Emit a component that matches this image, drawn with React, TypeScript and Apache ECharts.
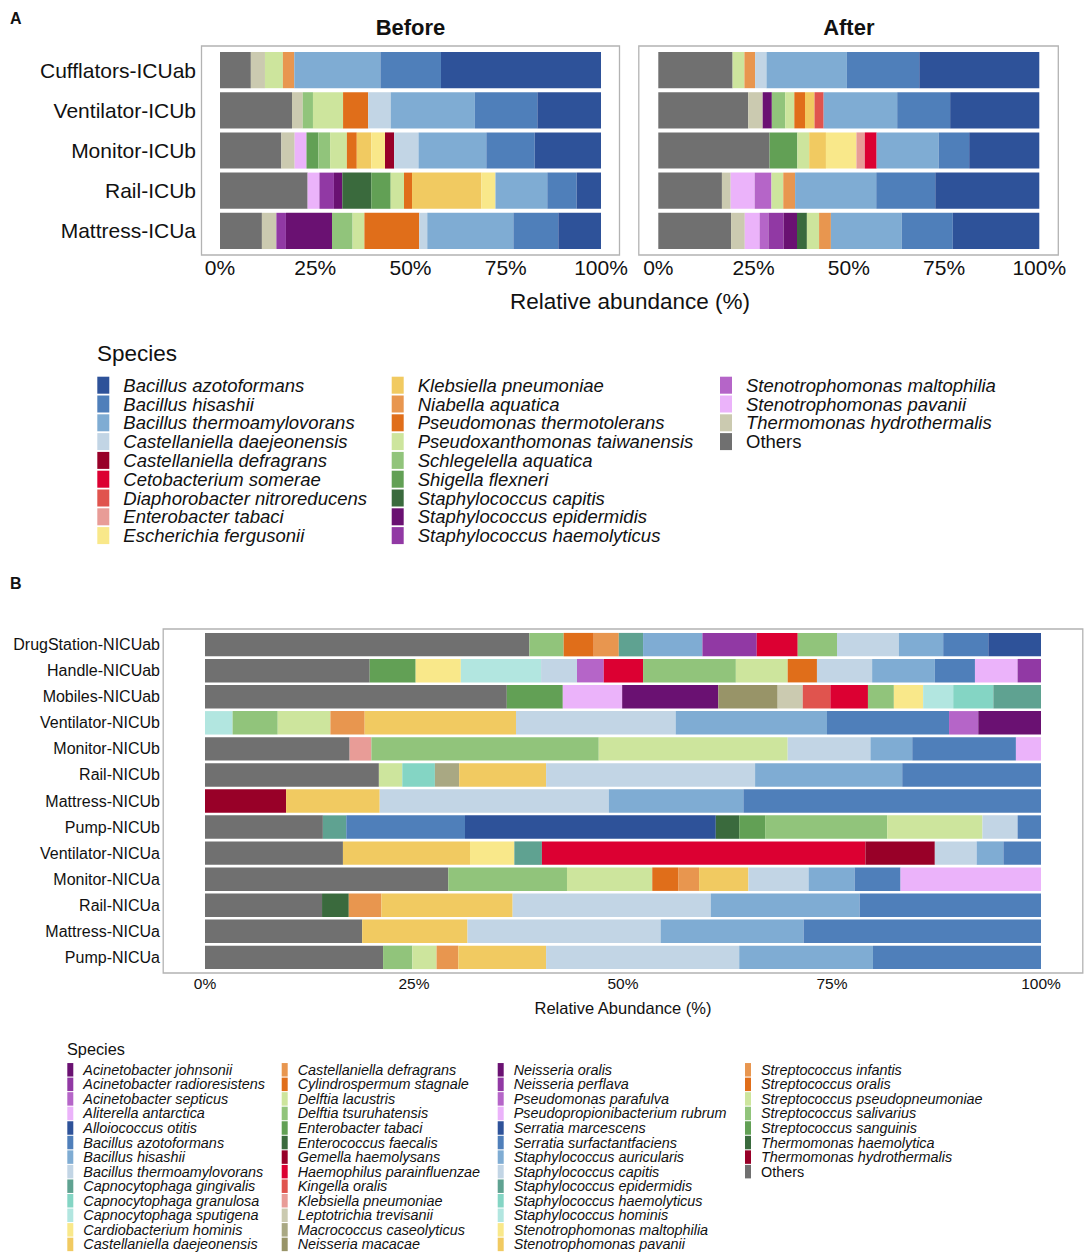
import React, { useEffect, useRef } from "react";
import * as echarts from "echarts";

const FONT = "'Liberation Sans', Arial, Helvetica, sans-serif";
const INK = "#111111";
const FRAME = "#B3B3B3";

type Seg = [string, number];

// ================= Panel A =================
const categoriesA = ["Cufflators-ICUab", "Ventilator-ICUb", "Monitor-ICUb", "Rail-ICUb", "Mattress-ICUa"];
const facetTitlesA = ["Before", "After"];

const speciesA = [
  "Bacillus azotoformans", "Bacillus hisashii", "Bacillus thermoamylovorans", "Castellaniella daejeonensis",
  "Castellaniella defragrans", "Cetobacterium somerae", "Diaphorobacter nitroreducens", "Enterobacter tabaci",
  "Escherichia fergusonii", "Klebsiella pneumoniae", "Niabella aquatica", "Pseudomonas thermotolerans",
  "Pseudoxanthomonas taiwanensis", "Schlegelella aquatica", "Shigella flexneri", "Staphylococcus capitis",
  "Staphylococcus epidermidis", "Staphylococcus haemolyticus", "Stenotrophomonas maltophilia",
  "Stenotrophomonas pavanii", "Thermomonas hydrothermalis", "Others",
];
const colorsA = [
  "#2E5299", "#4F7FBA", "#7FACD3", "#C2D5E5",
  "#980028", "#DC0032", "#E0544E", "#E89C97",
  "#F9E88A", "#F1CA61", "#E8964F", "#E06E1A",
  "#CDE59D", "#91C47B", "#62A055", "#3A6A3D",
  "#6A1172", "#9139A4", "#B565C8",
  "#EBB3FA", "#CBCAB0", "#707070",
];

const beforeCufflators: Seg[] = [
  ["Others", 8.1], ["Thermomonas hydrothermalis", 3.7], ["Pseudoxanthomonas taiwanensis", 4.7],
  ["Niabella aquatica", 3.0], ["Bacillus thermoamylovorans", 22.6], ["Bacillus hisashii", 15.9],
  ["Bacillus azotoformans", 42.0],
];
const beforeVentilator: Seg[] = [
  ["Others", 18.9], ["Thermomonas hydrothermalis", 2.8], ["Schlegelella aquatica", 2.7],
  ["Pseudoxanthomonas taiwanensis", 7.9], ["Pseudomonas thermotolerans", 6.6], ["Castellaniella daejeonensis", 5.9],
  ["Bacillus thermoamylovorans", 22.1], ["Bacillus hisashii", 16.4], ["Bacillus azotoformans", 16.7],
];
const beforeMonitor: Seg[] = [
  ["Others", 16.1], ["Thermomonas hydrothermalis", 3.5], ["Stenotrophomonas pavanii", 3.1],
  ["Shigella flexneri", 3.1], ["Schlegelella aquatica", 3.1], ["Pseudoxanthomonas taiwanensis", 4.4],
  ["Pseudomonas thermotolerans", 2.6], ["Klebsiella pneumoniae", 3.8], ["Escherichia fergusonii", 3.6],
  ["Castellaniella defragrans", 2.4], ["Castellaniella daejeonensis", 6.4], ["Bacillus thermoamylovorans", 17.8],
  ["Bacillus hisashii", 12.7], ["Bacillus azotoformans", 17.4],
];
const beforeRail: Seg[] = [
  ["Others", 23.0], ["Stenotrophomonas pavanii", 3.1], ["Staphylococcus haemolyticus", 3.8],
  ["Staphylococcus epidermidis", 2.2], ["Staphylococcus capitis", 7.6], ["Shigella flexneri", 5.1],
  ["Pseudoxanthomonas taiwanensis", 3.5], ["Pseudomonas thermotolerans", 2.1], ["Klebsiella pneumoniae", 18.2],
  ["Escherichia fergusonii", 3.7], ["Bacillus thermoamylovorans", 13.6], ["Bacillus hisashii", 7.7],
  ["Bacillus azotoformans", 6.4],
];
const beforeMattress: Seg[] = [
  ["Others", 11.0], ["Thermomonas hydrothermalis", 3.8], ["Staphylococcus haemolyticus", 2.5],
  ["Staphylococcus epidermidis", 12.1], ["Schlegelella aquatica", 5.4], ["Pseudoxanthomonas taiwanensis", 3.1],
  ["Pseudomonas thermotolerans", 14.4], ["Castellaniella daejeonensis", 2.1], ["Bacillus thermoamylovorans", 22.6],
  ["Bacillus hisashii", 11.8], ["Bacillus azotoformans", 11.2],
];

const afterCufflators: Seg[] = [
  ["Others", 19.5], ["Pseudoxanthomonas taiwanensis", 3.1], ["Niabella aquatica", 2.8],
  ["Castellaniella daejeonensis", 3.0], ["Bacillus thermoamylovorans", 21.1], ["Bacillus hisashii", 19.0],
  ["Bacillus azotoformans", 31.5],
];
const afterVentilator: Seg[] = [
  ["Others", 23.6], ["Thermomonas hydrothermalis", 3.8], ["Staphylococcus epidermidis", 2.4],
  ["Schlegelella aquatica", 3.5], ["Pseudoxanthomonas taiwanensis", 2.4], ["Pseudomonas thermotolerans", 2.8],
  ["Klebsiella pneumoniae", 2.5], ["Diaphorobacter nitroreducens", 2.4], ["Bacillus thermoamylovorans", 19.3],
  ["Bacillus hisashii", 13.9], ["Bacillus azotoformans", 23.4],
];
const afterMonitor: Seg[] = [
  ["Others", 29.2], ["Shigella flexneri", 7.3], ["Pseudoxanthomonas taiwanensis", 3.1],
  ["Klebsiella pneumoniae", 4.4], ["Escherichia fergusonii", 8.0], ["Enterobacter tabaci", 2.2],
  ["Cetobacterium somerae", 3.1], ["Bacillus thermoamylovorans", 16.3], ["Bacillus hisashii", 8.0],
  ["Bacillus azotoformans", 18.4],
];
const afterRail: Seg[] = [
  ["Others", 16.7], ["Thermomonas hydrothermalis", 2.3], ["Stenotrophomonas pavanii", 6.3],
  ["Stenotrophomonas maltophilia", 4.4], ["Pseudoxanthomonas taiwanensis", 3.1], ["Niabella aquatica", 3.1],
  ["Bacillus thermoamylovorans", 21.3], ["Bacillus hisashii", 15.5], ["Bacillus azotoformans", 27.3],
];
const afterMattress: Seg[] = [
  ["Others", 19.1], ["Thermomonas hydrothermalis", 3.6], ["Stenotrophomonas pavanii", 3.9],
  ["Stenotrophomonas maltophilia", 2.3], ["Staphylococcus haemolyticus", 4.0], ["Staphylococcus epidermidis", 3.5],
  ["Staphylococcus capitis", 2.6], ["Pseudoxanthomonas taiwanensis", 3.2], ["Niabella aquatica", 3.1],
  ["Bacillus thermoamylovorans", 18.6], ["Bacillus hisashii", 13.4], ["Bacillus azotoformans", 22.7],
];

const rowsBeforeA = [beforeCufflators, beforeVentilator, beforeMonitor, beforeRail, beforeMattress];
const rowsAfterA = [afterCufflators, afterVentilator, afterMonitor, afterRail, afterMattress];

// ================= Panel B =================
const categoriesB = [
  "DrugStation-NICUab", "Handle-NICUab", "Mobiles-NICUab", "Ventilator-NICUb", "Monitor-NICUb",
  "Rail-NICUb", "Mattress-NICUb", "Pump-NICUb", "Ventilator-NICUa", "Monitor-NICUa",
  "Rail-NICUa", "Mattress-NICUa", "Pump-NICUa",
];

const speciesB = [
  "Acinetobacter johnsonii", "Acinetobacter radioresistens", "Acinetobacter septicus", "Aliterella antarctica",
  "Alloiococcus otitis", "Bacillus azotoformans", "Bacillus hisashii", "Bacillus thermoamylovorans",
  "Capnocytophaga gingivalis", "Capnocytophaga granulosa", "Capnocytophaga sputigena", "Cardiobacterium hominis",
  "Castellaniella daejeonensis",
  "Castellaniella defragrans", "Cylindrospermum stagnale", "Delftia lacustris", "Delftia tsuruhatensis",
  "Enterobacter tabaci", "Enterococcus faecalis", "Gemella haemolysans", "Haemophilus parainfluenzae",
  "Kingella oralis", "Klebsiella pneumoniae", "Leptotrichia trevisanii", "Macrococcus caseolyticus",
  "Neisseria macacae",
  "Neisseria oralis", "Neisseria perflava", "Pseudomonas parafulva", "Pseudopropionibacterium rubrum",
  "Serratia marcescens", "Serratia surfactantfaciens", "Staphylococcus auricularis", "Staphylococcus capitis",
  "Staphylococcus epidermidis", "Staphylococcus haemolyticus", "Staphylococcus hominis",
  "Stenotrophomonas maltophilia", "Stenotrophomonas pavanii",
  "Streptococcus infantis", "Streptococcus oralis", "Streptococcus pseudopneumoniae", "Streptococcus salivarius",
  "Streptococcus sanguinis", "Thermomonas haemolytica", "Thermomonas hydrothermalis", "Others",
];
const colorsB = [
  "#6A1172", "#9139A4", "#B565C8", "#EBB3FA",
  "#2E5299", "#4F7FBA", "#7FACD3", "#C2D5E5",
  "#5FA291", "#84D5C4", "#B2E6E0", "#F9E88A",
  "#F1CA61",
  "#E8964F", "#E06E1A", "#CDE59D", "#91C47B",
  "#62A055", "#3A6A3D", "#980028", "#DC0032",
  "#E0544E", "#E89C97", "#CBCAB0", "#A9A883",
  "#989468",
  "#6A1172", "#9139A4", "#B565C8", "#EBB3FA",
  "#2E5299", "#4F7FBA", "#7FACD3", "#C2D5E5",
  "#5FA291", "#84D5C4", "#B2E6E0",
  "#F9E88A", "#F1CA61",
  "#E8964F", "#E06E1A", "#CDE59D", "#91C47B",
  "#62A055", "#3A6A3D", "#980028", "#707070",
];

const drugStationNICUab: Seg[] = [
  ["Others", 38.8], ["Streptococcus salivarius", 4.1], ["Streptococcus oralis", 3.6], ["Streptococcus infantis", 3.0],
  ["Staphylococcus epidermidis", 2.9], ["Staphylococcus auricularis", 7.1], ["Neisseria perflava", 6.5],
  ["Haemophilus parainfluenzae", 4.9], ["Delftia tsuruhatensis", 4.7], ["Bacillus thermoamylovorans", 7.4],
  ["Bacillus hisashii", 5.3], ["Bacillus azotoformans", 5.4], ["Alloiococcus otitis", 6.3],
];
const handleNICUab: Seg[] = [
  ["Others", 19.7], ["Streptococcus sanguinis", 5.5], ["Stenotrophomonas maltophilia", 5.4],
  ["Staphylococcus hominis", 9.6], ["Staphylococcus capitis", 4.3], ["Pseudomonas parafulva", 3.2],
  ["Haemophilus parainfluenzae", 4.7], ["Delftia tsuruhatensis", 11.1], ["Delftia lacustris", 6.2],
  ["Cylindrospermum stagnale", 3.5], ["Bacillus thermoamylovorans", 6.6], ["Bacillus hisashii", 7.5],
  ["Bacillus azotoformans", 4.8], ["Aliterella antarctica", 5.1], ["Acinetobacter radioresistens", 2.8],
];
const mobilesNICUab: Seg[] = [
  ["Others", 36.1], ["Streptococcus sanguinis", 6.7], ["Pseudopropionibacterium rubrum", 7.1],
  ["Neisseria oralis", 11.5], ["Neisseria macacae", 7.1], ["Leptotrichia trevisanii", 3.0], ["Kingella oralis", 3.3],
  ["Haemophilus parainfluenzae", 4.5], ["Delftia tsuruhatensis", 3.1], ["Cardiobacterium hominis", 3.5],
  ["Capnocytophaga sputigena", 3.6], ["Capnocytophaga granulosa", 4.8], ["Capnocytophaga gingivalis", 5.7],
];
const ventilatorNICUb: Seg[] = [
  ["Staphylococcus hominis", 3.3], ["Delftia tsuruhatensis", 5.4], ["Delftia lacustris", 6.3],
  ["Castellaniella defragrans", 4.1], ["Castellaniella daejeonensis", 18.1], ["Bacillus thermoamylovorans", 19.1],
  ["Bacillus hisashii", 18.1], ["Bacillus azotoformans", 14.6], ["Acinetobacter septicus", 3.5],
  ["Acinetobacter johnsonii", 7.5],
];
const monitorNICUb: Seg[] = [
  ["Others", 17.3], ["Klebsiella pneumoniae", 2.6], ["Delftia tsuruhatensis", 27.2], ["Delftia lacustris", 22.6],
  ["Bacillus thermoamylovorans", 9.9], ["Bacillus hisashii", 5.0], ["Bacillus azotoformans", 12.4],
  ["Aliterella antarctica", 3.0],
];
const railNICUb: Seg[] = [
  ["Others", 20.8], ["Streptococcus pseudopneumoniae", 2.8], ["Staphylococcus haemolyticus", 3.9],
  ["Macrococcus caseolyticus", 2.9], ["Castellaniella daejeonensis", 10.4], ["Bacillus thermoamylovorans", 25.0],
  ["Bacillus hisashii", 17.6], ["Bacillus azotoformans", 16.6],
];
const mattressNICUb: Seg[] = [
  ["Gemella haemolysans", 9.7], ["Castellaniella daejeonensis", 11.2], ["Bacillus thermoamylovorans", 27.4],
  ["Bacillus hisashii", 16.1], ["Bacillus azotoformans", 35.6],
];
const pumpNICUb: Seg[] = [
  ["Others", 14.1], ["Staphylococcus epidermidis", 2.8], ["Serratia surfactantfaciens", 14.2],
  ["Serratia marcescens", 30.0], ["Enterococcus faecalis", 2.8], ["Enterobacter tabaci", 3.1],
  ["Delftia tsuruhatensis", 14.6], ["Delftia lacustris", 11.4], ["Bacillus thermoamylovorans", 4.2],
  ["Bacillus azotoformans", 2.8],
];
const ventilatorNICUa: Seg[] = [
  ["Others", 16.5], ["Stenotrophomonas pavanii", 15.2], ["Stenotrophomonas maltophilia", 5.3],
  ["Staphylococcus epidermidis", 3.3], ["Haemophilus parainfluenzae", 38.7], ["Gemella haemolysans", 8.3],
  ["Bacillus thermoamylovorans", 5.0], ["Bacillus hisashii", 3.2], ["Bacillus azotoformans", 4.5],
];
const monitorNICUa: Seg[] = [
  ["Others", 29.1], ["Delftia tsuruhatensis", 14.2], ["Delftia lacustris", 10.2], ["Cylindrospermum stagnale", 3.1],
  ["Castellaniella defragrans", 2.5], ["Castellaniella daejeonensis", 5.9], ["Bacillus thermoamylovorans", 7.2],
  ["Bacillus hisashii", 5.5], ["Bacillus azotoformans", 5.5], ["Aliterella antarctica", 16.8],
];
const railNICUa: Seg[] = [
  ["Others", 14.0], ["Enterococcus faecalis", 3.2], ["Castellaniella defragrans", 3.9],
  ["Castellaniella daejeonensis", 15.7], ["Bacillus thermoamylovorans", 23.7], ["Bacillus hisashii", 17.8],
  ["Bacillus azotoformans", 21.7],
];
const mattressNICUa: Seg[] = [
  ["Others", 18.8], ["Castellaniella daejeonensis", 12.6], ["Bacillus thermoamylovorans", 23.1],
  ["Bacillus hisashii", 17.1], ["Bacillus azotoformans", 28.4],
];
const pumpNICUa: Seg[] = [
  ["Others", 21.3], ["Delftia tsuruhatensis", 3.5], ["Delftia lacustris", 2.9], ["Castellaniella defragrans", 2.6],
  ["Castellaniella daejeonensis", 10.5], ["Bacillus thermoamylovorans", 23.1], ["Bacillus hisashii", 16.0],
  ["Bacillus azotoformans", 20.1],
];

const rowsB = [
  drugStationNICUab, handleNICUab, mobilesNICUab, ventilatorNICUb, monitorNICUb, railNICUb, mattressNICUb,
  pumpNICUb, ventilatorNICUa, monitorNICUa, railNICUa, mattressNICUa, pumpNICUa,
];

// ================= helpers =================
function valueIn(row: Seg[], name: string): number {
  const s = row.find((r) => r[0] === name);
  return s ? s[1] : 0;
}

function buildSeries(species: string[], colors: string[], rows: Seg[][], gi: number) {
  const order = [...species].reverse(); // Others first (left), legend order reversed
  return order.map((name) => ({
    type: "bar",
    name,
    stack: "g" + gi,
    xAxisIndex: gi,
    yAxisIndex: gi,
    barCategoryGap: "10%",
    data: rows.map((r) => valueIn(r, name)),
    itemStyle: { color: colors[species.indexOf(name)] },
    emphasis: { disabled: true },
    silent: true,
  }));
}

function legendColumns(
  species: string[],
  cols: { left: number; from: number; to: number }[],
  top: number,
  itemWidth: number,
  itemHeight: number,
  fontSize: number,
  gap: number,
  textPad: number
) {
  const tok = { fontSize, fontFamily: FONT, color: INK };
  return cols.map((c) => ({
    data: species.slice(c.from, c.to),
    left: c.left,
    top,
    height: 400,
    width: 400,
    orient: "vertical",
    icon: "rect",
    itemWidth,
    itemHeight,
    itemGap: gap,
    padding: 0,
    selectedMode: false,
    formatter: (n: string) => (n === "Others" ? `{n|${n}}` : `{i|${n}}`),
    textStyle: {
      fontSize,
      fontFamily: FONT,
      color: INK,
      padding: [0, 0, 0, textPad],
      rich: { i: { ...tok, fontStyle: "italic" }, n: { ...tok } },
    },
  }));
}

function textEl(text: string, x: number, y: number, size: number, opts: any = {}) {
  return {
    type: "text",
    x,
    y,
    silent: true,
    style: {
      text,
      fontSize: size,
      fontFamily: FONT,
      fontWeight: opts.bold ? "bold" : "normal",
      fill: INK,
      align: opts.align || "left",
      verticalAlign: "middle",
    },
  };
}

function frame(x: number, y: number, w: number, h: number) {
  return {
    type: "rect",
    silent: true,
    shape: { x, y, width: w, height: h },
    style: { fill: "none", stroke: FRAME, lineWidth: 1.3 },
  };
}

// ================= options =================
const gridsA = [
  { left: 220, top: 50, width: 381, height: 201 },
  { left: 658.3, top: 50, width: 381, height: 201 },
];

const optionA: any = {
  animation: false,
  backgroundColor: "#ffffff",
  grid: gridsA,
  xAxis: [0, 1].map((i) => ({
    gridIndex: i,
    type: "value",
    min: 0,
    max: 100,
    interval: 25,
    splitLine: { show: false },
    axisLine: { show: false },
    axisTick: { show: false },
    axisLabel: { formatter: "{value}%", fontSize: 21, fontFamily: FONT, color: INK, margin: 6 },
  })),
  yAxis: [0, 1].map((i) => ({
    gridIndex: i,
    type: "category",
    data: categoriesA,
    inverse: true,
    axisLine: { show: false },
    axisTick: { show: false },
    axisLabel: { show: i === 0, fontSize: 21, fontFamily: FONT, color: INK, margin: 24 },
  })),
  legend: legendColumns(
    speciesA,
    [
      { left: 97.3, from: 0, to: 9 },
      { left: 391.7, from: 9, to: 18 },
      { left: 720, from: 18, to: 22 },
    ],
    375.7,
    12,
    17,
    18.5,
    -0.2,
    9
  ),
  series: [
    ...buildSeries(speciesA, colorsA, rowsBeforeA, 0),
    ...buildSeries(speciesA, colorsA, rowsAfterA, 1),
  ],
  graphic: [
    textEl("A", 10, 18.5, 16, { bold: true }),
    textEl(facetTitlesA[0], 410.5, 27, 22, { bold: true, align: "center" }),
    textEl(facetTitlesA[1], 848.8, 27, 22, { bold: true, align: "center" }),
    frame(201.5, 46, 418, 209),
    frame(638.8, 46, 419.5, 209),
    textEl("Relative abundance (%)", 630, 301, 22.5, { align: "center" }),
    textEl("Species", 97, 353, 22.5),
  ],
};

const optionB: any = {
  animation: false,
  backgroundColor: "#ffffff",
  grid: { left: 205, top: 71.6, width: 836, height: 338.8 },
  xAxis: {
    type: "value",
    min: 0,
    max: 100,
    interval: 25,
    splitLine: { show: false },
    axisLine: { show: false },
    axisTick: { show: false },
    axisLabel: { formatter: "{value}%", fontSize: 15.5, fontFamily: FONT, color: INK, margin: 5 },
  },
  yAxis: {
    type: "category",
    data: categoriesB,
    inverse: true,
    axisLine: { show: false },
    axisTick: { show: false },
    axisLabel: { fontSize: 16, fontFamily: FONT, color: INK, margin: 45 },
  },
  legend: legendColumns(
    speciesB,
    [
      { left: 67.3, from: 0, to: 13 },
      { left: 281.7, from: 13, to: 26 },
      { left: 497.7, from: 26, to: 39 },
      { left: 745, from: 39, to: 47 },
    ],
    502.8,
    6,
    13.5,
    14.4,
    0.55,
    5
  ),
  series: buildSeries(speciesB, colorsB, rowsB, 0),
  graphic: [
    textEl("B", 10, 23.5, 16, { bold: true }),
    frame(163.2, 69, 919.6, 344),
    textEl("Relative Abundance (%)", 623, 448, 16.5, { align: "center" }),
    textEl("Species", 67, 489.3, 16.3),
  ],
};

function ChartBox({ option, top, height }: { option: any; top: number; height: number }) {
  const ref = useRef<HTMLDivElement>(null);
  useEffect(() => {
    if (!ref.current) return;
    const chart = echarts.init(ref.current, undefined, { renderer: "svg" });
    chart.setOption(option);
    return () => chart.dispose();
  }, [option]);
  return <div ref={ref} style={{ position: "absolute", left: 0, top, width: 1084, height }} />;
}

export default function App() {
  return (
    <div style={{ position: "absolute", left: 0, top: 0, width: 1084, height: 1254, background: "#ffffff" }}>
      <ChartBox option={optionA} top={0} height={560} />
      <ChartBox option={optionB} top={560} height={694} />
    </div>
  );
}
